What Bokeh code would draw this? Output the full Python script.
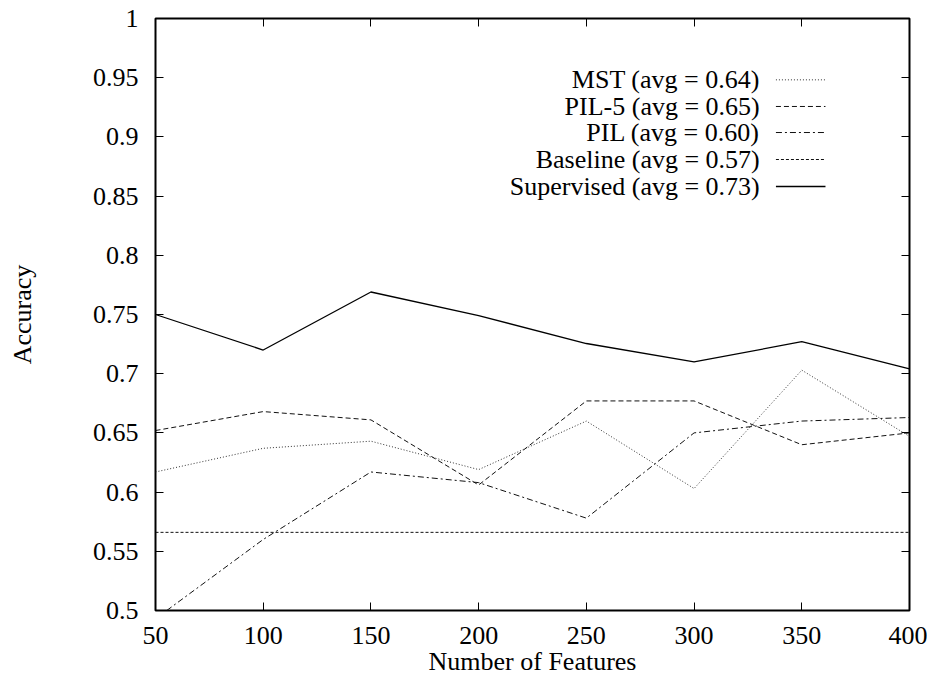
from bokeh.plotting import figure
from bokeh.models import FixedTicker, LinearAxis, Range1d, CustomJSTickFormatter
from bokeh.core.properties import value
from bokeh.embed import file_html
from bokeh.resources import INLINE

features = [50, 100, 150, 200, 250, 300, 350, 400]
mst = [0.617, 0.637, 0.643, 0.619, 0.660, 0.603, 0.703, 0.647]
pil5 = [0.652, 0.668, 0.661, 0.606, 0.677, 0.677, 0.640, 0.650]
pil = [0.493, 0.560, 0.617, 0.608, 0.578, 0.650, 0.660, 0.663]
baseline = [0.566, 0.566, 0.566, 0.566, 0.566, 0.566, 0.566, 0.566]
supervised = [0.750, 0.720, 0.769, 0.749, 0.7255, 0.710, 0.727, 0.704]

series_names = ["MST (avg = 0.64)", "PIL-5 (avg = 0.65)", "PIL (avg = 0.60)",
                "Baseline (avg = 0.57)", "Supervised (avg = 0.73)"]
series_values = [mst, pil5, pil, baseline, supervised]
series_dash = ["1 2", "5 3", "6 3 2 3", "3 2", "solid"]
series_width = [1.0, 1.0, 1.0, 1.0, 1.3]
series_color = ["#333333", "#111111", "#111111", "#111111", "#000000"]

x_ticks = [50, 100, 150, 200, 250, 300, 350, 400]
y_ticks = [0.5, 0.55, 0.6, 0.65, 0.7, 0.75, 0.8, 0.85, 0.9, 0.95, 1.0]
y_tick_labels = ["0.5", "0.55", "0.6", "0.65", "0.7", "0.75", "0.8", "0.85", "0.9", "0.95", "1"]

FONT = "Liberation Serif"
FS = "26px"

p = figure(width=927, height=681, output_backend="svg", toolbar_location=None,
           x_range=Range1d(50, 400), y_range=Range1d(0.5, 1.0),
           min_border_left=155, min_border_right=18, min_border_top=18, min_border_bottom=71)
p.grid.visible = False
p.outline_line_color = "black"
p.outline_line_width = 2
p.background_fill_color = "white"
p.border_fill_color = "white"

for i, name in enumerate(series_names):
    p.line(features, series_values[i], line_color=series_color[i], line_width=series_width[i],
           line_dash=series_dash[i])

# legend (gnuplot style: text left, sample right)
leg_y = [0.9482, 0.9257, 0.9037, 0.8809, 0.8581]
p.text(x=[330.5] * 5, y=leg_y, text=series_names, text_align="right", text_baseline="middle",
       text_font=value(FONT), text_font_size=FS, text_color="black")
for i in range(5):
    p.line([338.0, 361.0], [leg_y[i], leg_y[i]], line_color=series_color[i],
           line_width=series_width[i], line_dash=series_dash[i])

def style_axis(ax):
    ax.major_tick_in = 8
    ax.major_tick_out = 0
    ax.minor_tick_in = 0
    ax.minor_tick_out = 0
    ax.axis_line_color = None
    ax.major_tick_line_color = "black"
    ax.major_tick_line_width = 1
    ax.major_label_text_font = FONT
    ax.major_label_text_font_size = FS
    ax.major_label_text_color = "black"
    ax.axis_label_text_font = FONT
    ax.axis_label_text_font_size = FS
    ax.axis_label_text_font_style = "normal"
    ax.axis_label_text_color = "black"

xa = p.xaxis[0]
xa.ticker = FixedTicker(ticks=x_ticks)
style_axis(xa)
xa.axis_label = "Number of Features"
xa.major_label_standoff = 16
xa.axis_label_standoff = 0

ya = p.yaxis[0]
ya.ticker = FixedTicker(ticks=y_ticks)
style_axis(ya)
ya.major_label_overrides = {t: l for t, l in zip(y_ticks, y_tick_labels)}
ya.axis_label = "Accuracy"
ya.major_label_standoff = 17
ya.axis_label_standoff = 53

top = LinearAxis(ticker=FixedTicker(ticks=x_ticks), formatter=CustomJSTickFormatter(code="return '';"))
style_axis(top)
top.major_label_standoff = 0
p.add_layout(top, "above")
right = LinearAxis(ticker=FixedTicker(ticks=y_ticks), formatter=CustomJSTickFormatter(code="return '';"))
style_axis(right)
right.major_label_standoff = 0
p.add_layout(right, "right")

open("out.html", "w").write(file_html(p, INLINE))
